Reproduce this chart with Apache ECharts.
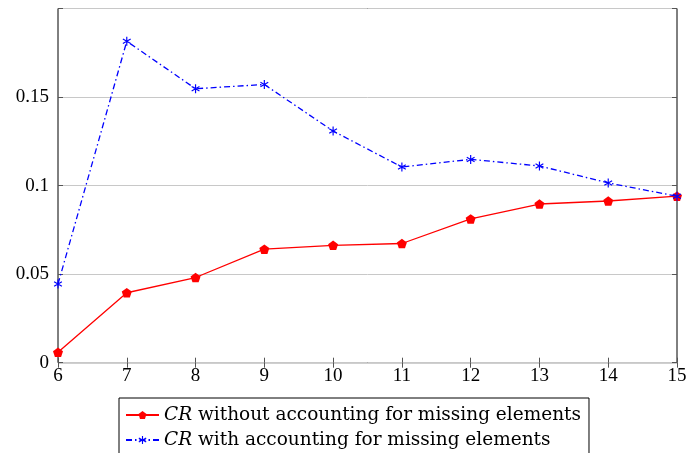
<!DOCTYPE html>
<html><head><meta charset="utf-8">
<script src="https://cdn.jsdelivr.net/npm/echarts@6/dist/echarts.min.js"></script>
<style>html,body{margin:0;padding:0;background:#fff}#c{width:696px;height:453px}</style>
</head><body><div id="c"></div>
<script>
const xValues = [6, 7, 8, 9, 10, 11, 12, 13, 14, 15];
const crWithout = [0.0059, 0.0395, 0.0481, 0.0641, 0.0663, 0.0673, 0.0812, 0.0896, 0.0913, 0.0940];
const crWith = [0.0444, 0.1815, 0.1547, 0.1571, 0.1308, 0.1105, 0.1148, 0.1111, 0.1015, 0.0940];
const seriesNames = ['CR without accounting for missing elements', 'CR with accounting for missing elements'];
const yTicks = [0, 0.05, 0.1, 0.15];

const FONT = 'Liberation Serif';
const LFONT = 'DejaVu Serif';
const pentagon = 'path://M0,-10 L9.51,-3.09 L5.88,8.09 L-5.88,8.09 L-9.51,-3.09 Z';
const asterisk = 'path://M-1.3,-10 L1.3,-10 L1.3,10 L-1.3,10 Z M8.01,-6.13 L9.31,-3.87 L-8.01,6.13 L-9.31,3.87 Z M9.31,3.87 L8.01,6.13 L-9.31,-3.87 L-8.01,-6.13 Z';

const chart = echarts.init(document.getElementById('c'), null, {renderer: 'canvas'});
const tickStyle = {show: true, inside: true, length: 5, lineStyle: {color: '#555', width: 1}};
const axisCommon = {
  axisLine: {show: false},
  axisTick: tickStyle,
  splitLine: {show: false}
};
chart.setOption({
  backgroundColor: '#fff',
  animation: false,
  textStyle: {fontFamily: FONT, color: '#000'},
  grid: {left: 58, right: 19, top: 8.5, bottom: 90.3, show: true, borderColor: '#000', borderWidth: 1, backgroundColor: 'transparent'},
  xAxis: [
    Object.assign({}, axisCommon, {type: 'value', min: 6, max: 15, interval: 1, position: 'bottom',
      axisLabel: {fontFamily: FONT, fontSize: 19, color: '#000', margin: 4}}),
    Object.assign({}, axisCommon, {type: 'value', min: 6, max: 15, interval: 1, position: 'top',
      axisLabel: {show: false}})
  ],
  yAxis: [
    Object.assign({}, axisCommon, {type: 'value', min: 0, max: 0.2, interval: 0.05, position: 'left',
      splitLine: {show: true, lineStyle: {color: '#c8c8c8', width: 1}},
      axisLabel: {fontFamily: FONT, fontSize: 19, color: '#000', margin: 9,
        formatter: v => yTicks.some(t => Math.abs(t - v) < 1e-9) ? String(+v.toFixed(2)) : ''}}),
    Object.assign({}, axisCommon, {type: 'value', min: 0, max: 0.2, interval: 0.05, position: 'right',
      axisLabel: {show: false}})
  ],
  legend: {
    orient: 'vertical', left: 119, top: 398, height: 90,
    itemWidth: 33, itemHeight: 10, itemGap: 6,
    padding: [7.5, 8, 20, 6],
    borderColor: '#000', borderWidth: 1, borderRadius: 0,
    backgroundColor: '#fff',
    data: seriesNames,
    formatter: name => '{i|CR}{n|' + name.slice(2) + '}',
    textStyle: {
      color: '#000', fontFamily: LFONT, fontSize: 18.5,
      rich: {
        i: {fontFamily: LFONT, fontStyle: 'italic', fontSize: 18.5, color: '#000'},
        n: {fontFamily: LFONT, fontSize: 18.5, color: '#000'}
      }
    }
  },
  series: [
    {
      name: seriesNames[0], type: 'line',
      data: xValues.map((x, i) => [x, crWithout[i]]),
      symbol: pentagon, symbolSize: 10, symbolKeepAspect: true,
      itemStyle: {color: '#ff0000'},
      lineStyle: {color: '#ff0000', width: 1.3, type: 'solid'},
      z: 3
    },
    {
      name: seriesNames[1], type: 'line',
      data: xValues.map((x, i) => [x, crWith[i]]),
      symbol: asterisk, symbolSize: 9, symbolKeepAspect: true,
      itemStyle: {color: '#0000ff'},
      lineStyle: {color: '#0000ff', width: 1.3, type: [6, 3, 1.5, 3]},
      z: 4
    }
  ]
});
</script></body></html>
